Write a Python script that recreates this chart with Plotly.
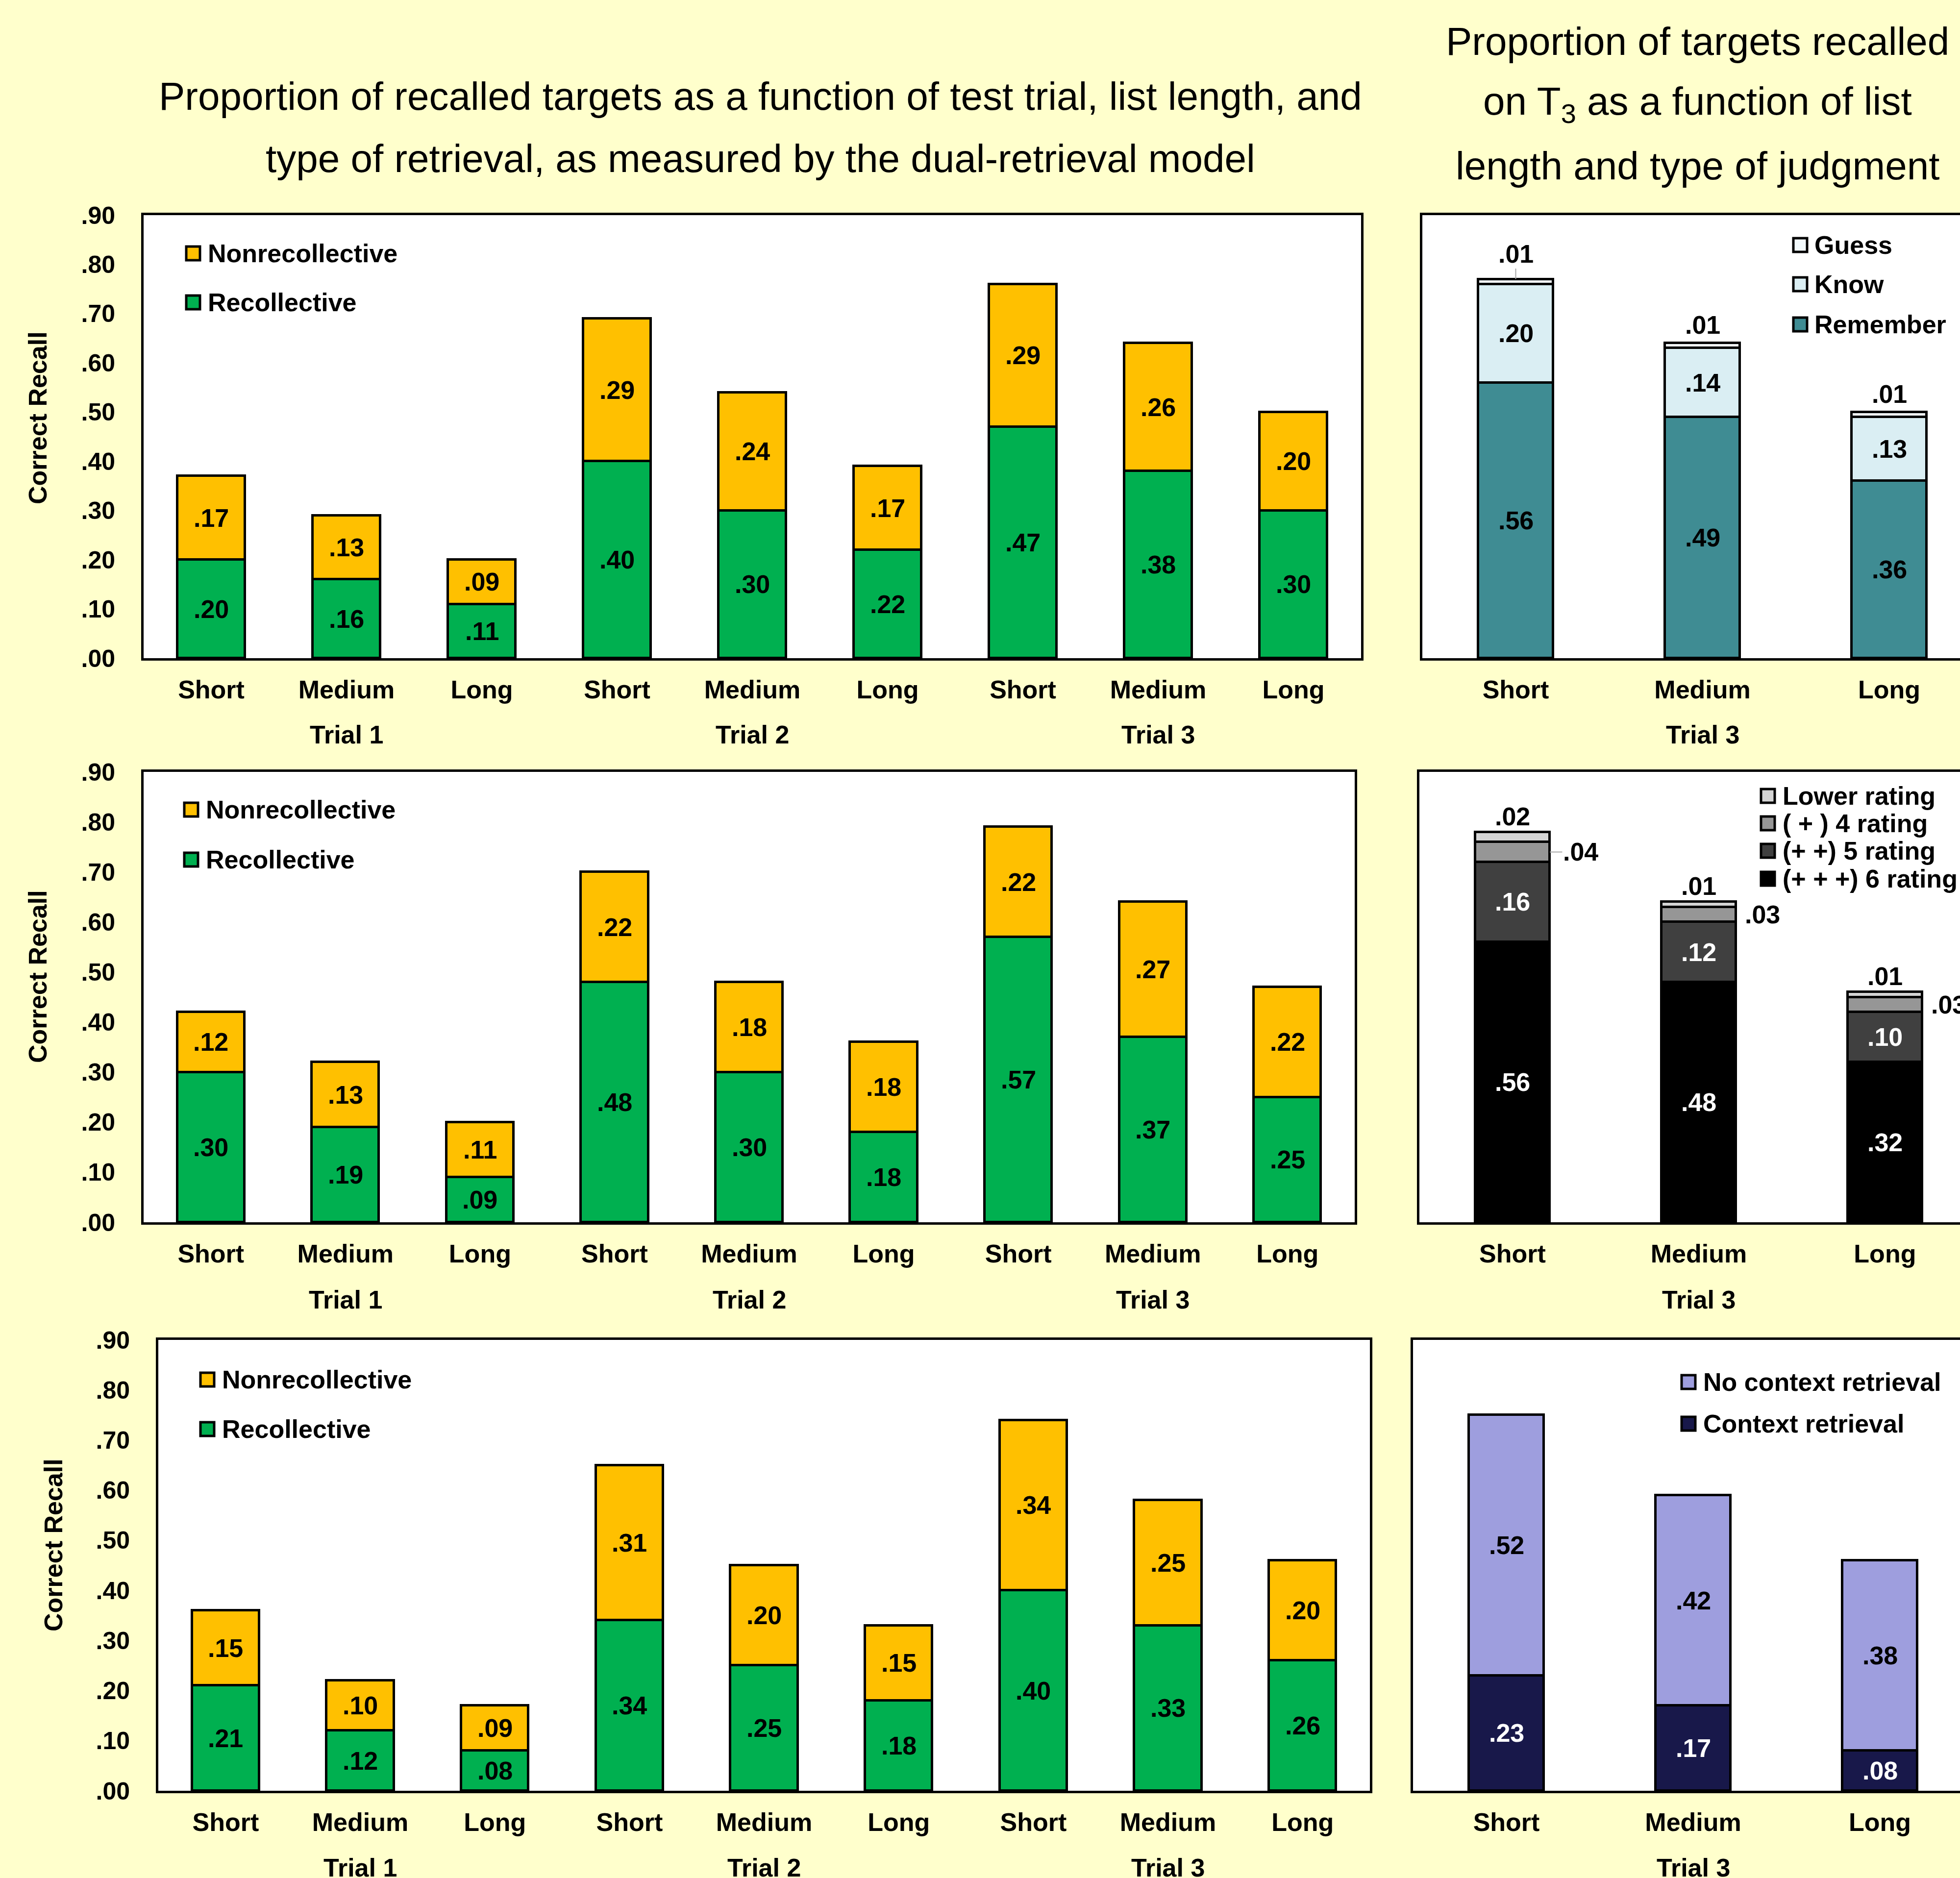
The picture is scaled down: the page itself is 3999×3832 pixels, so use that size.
import plotly.graph_objects as go

# ------------------------------------------------------------------ data
lengths = ["Short", "Medium", "Long"]
trials = ["Trial 1", "Trial 2", "Trial 3"]
left_ticktext = ["Short", "Medium", "Long", "Short", "Medium", "Long", "Short", "Medium", "Long"]
y_tickvals = [0.0, 0.1, 0.2, 0.3, 0.4, 0.5, 0.6, 0.7, 0.8, 0.9]
y_ticktext = [".00", ".10", ".20", ".30", ".40", ".50", ".60", ".70", ".80", ".90"]

# Row 1
r1_recollective = [0.20, 0.16, 0.11, 0.40, 0.30, 0.22, 0.47, 0.38, 0.30]
r1_nonrecollective = [0.17, 0.13, 0.09, 0.29, 0.24, 0.17, 0.29, 0.26, 0.20]
r1_remember = [0.56, 0.49, 0.36]
r1_know = [0.20, 0.14, 0.13]
r1_guess = [0.01, 0.01, 0.01]

# Row 2
r2_recollective = [0.30, 0.19, 0.09, 0.48, 0.30, 0.18, 0.57, 0.37, 0.25]
r2_nonrecollective = [0.12, 0.13, 0.11, 0.22, 0.18, 0.18, 0.22, 0.27, 0.22]
r2_rating6 = [0.56, 0.48, 0.32]
r2_rating5 = [0.16, 0.12, 0.10]
r2_rating4 = [0.04, 0.03, 0.03]
r2_lower = [0.02, 0.01, 0.01]

# Row 3
r3_recollective = [0.21, 0.12, 0.08, 0.34, 0.25, 0.18, 0.40, 0.33, 0.26]
r3_nonrecollective = [0.15, 0.10, 0.09, 0.31, 0.20, 0.15, 0.34, 0.25, 0.20]
r3_context = [0.23, 0.17, 0.08]
r3_nocontext = [0.52, 0.42, 0.38]

# ------------------------------------------------------------------ style
W, H = 3999, 3832
FONT = "Liberation Sans, Arial, sans-serif"
BG = "#FFFFCC"
GREEN, GOLD = "#00B050", "#FFC000"
TEAL, KNOW, GUESS = "#3F8C93", "#DAEEF3", "#F3FAFC"
R6, R5, R4, LOWER = "#000000", "#404040", "#969696", "#D4D4D4"
CTX, NOCTX = "#18184A", "#9E9EDE"
LW = 5
VAL_SIZE = 52


def fx(p):
    return p / W


def fy(p):
    return 1 - p / H


def aid(k):
    return "" if k == 1 else str(k)


def fmt(v):
    return f"{v:.2f}".lstrip("0")


panels = {
    1: dict(x=(293, 2777), y=(439, 1343), xr=[-0.5, 8.5], left=True),
    2: dict(x=(2902, 3999), y=(439, 1343), xr=[-0.5, 2.379], left=False),
    3: dict(x=(293, 2764), y=(1575, 2494), xr=[-0.5, 8.5], left=True),
    4: dict(x=(2896, 3999), y=(1575, 2494), xr=[-0.5, 2.403], left=False),
    5: dict(x=(323, 2795), y=(2734, 3654), xr=[-0.5, 8.5], left=True),
    6: dict(x=(2883, 3999), y=(2734, 3654), xr=[-0.5, 2.429], left=False),
}

fig = go.Figure()
annotations = []
shapes = []

layout_axes = {}
for k, p in panels.items():
    tv = list(range(len(left_ticktext))) if p["left"] else list(range(len(lengths)))
    tt = left_ticktext if p["left"] else lengths
    layout_axes[f"xaxis{aid(k)}"] = dict(
        domain=[fx(p["x"][0]), fx(p["x"][1])], range=p["xr"], anchor=f"y{aid(k)}",
        tickvals=tv, ticktext=tt, ticks="", ticklabelstandoff=15, automargin=False,
        tickfont=dict(family=FONT, size=52, color="black", weight="bold"),
        showline=True, mirror=True, linecolor="black", linewidth=LW,
        showgrid=False, zeroline=False, fixedrange=True,
    )
    layout_axes[f"yaxis{aid(k)}"] = dict(
        domain=[fy(p["y"][1]), fy(p["y"][0])], range=[0, 0.9], anchor=f"x{aid(k)}",
        tickvals=y_tickvals, ticktext=y_ticktext, ticks="", ticklabelstandoff=43, automargin=False,
        showticklabels=p["left"],
        tickfont=dict(family=FONT, size=50, color="black", weight="bold"),
        showline=True, mirror=p["left"], linecolor="black", linewidth=LW,
        showgrid=False, zeroline=False, fixedrange=True,
    )


def add_stack(k, series, colors, width):
    xs = list(range(len(series[0])))
    for vals, col in zip(series, colors):
        fig.add_trace(go.Bar(
            x=xs, y=vals, width=width,
            marker=dict(color=col, line=dict(color="black", width=LW)),
            xaxis=f"x{aid(k)}", yaxis=f"y{aid(k)}", showlegend=False, hoverinfo="skip",
        ))


def mid_labels(k, series, txtcolors, labelled):
    n = len(series[0])
    base = [0.0] * n
    for si, vals in enumerate(series):
        for i, v in enumerate(vals):
            if labelled[si]:
                annotations.append(dict(
                    x=i, y=base[i] + v / 2, xref=f"x{aid(k)}", yref=f"y{aid(k)}",
                    text=fmt(v), showarrow=False, xanchor="center", yanchor="middle",
                    font=dict(family=FONT, size=VAL_SIZE, color=txtcolors[si], weight="bold"),
                ))
            base[i] += v
    return base


def txt(x, y, text, size=52, xanchor="center", yanchor="middle", weight="bold", angle=0, **kw):
    d = dict(x=x, y=y, xref="paper", yref="paper", text=text, showarrow=False,
             xanchor=xanchor, yanchor=yanchor, textangle=angle,
             font=dict(family=FONT, size=size, color="black", weight=weight))
    d.update(kw)
    annotations.append(d)


def legend_item(cx, cy, tx, color, label):
    shapes.append(dict(type="rect", xref="paper", yref="paper", xsizemode="pixel", ysizemode="pixel",
                       xanchor=fx(cx), yanchor=fy(cy), x0=-14, x1=14, y0=-14, y1=14,
                       fillcolor=color, line=dict(color="black", width=LW)))
    txt(fx(tx), fy(cy), label, xanchor="left")


# ---------------- left panels (recollective / nonrecollective)
left_rows = [
    (1, r1_recollective, r1_nonrecollective),
    (3, r2_recollective, r2_nonrecollective),
    (5, r3_recollective, r3_nonrecollective),
]
for k, rec, non in left_rows:
    add_stack(k, [rec, non], [GREEN, GOLD], 0.5)
    mid_labels(k, [rec, non], ["black", "black"], [True, True])

# ---------------- right row 1: remember / know / guess
add_stack(2, [r1_remember, r1_know, r1_guess], [TEAL, KNOW, GUESS], 0.4)
tot2 = mid_labels(2, [r1_remember, r1_know, r1_guess], ["black", "black", "black"], [True, True, False])
for i, v in enumerate(r1_guess):
    if i == 0:
        annotations.append(dict(x=i, y=tot2[i], xref="x2", yref="y2", text=fmt(v), showarrow=True,
                                arrowhead=0, arrowwidth=2, arrowcolor="#A6A6A6", ax=0, ay=-52,
                                font=dict(family=FONT, size=VAL_SIZE, color="black", weight="bold")))
    else:
        annotations.append(dict(x=i, y=tot2[i], xref="x2", yref="y2", text=fmt(v), showarrow=False,
                                yanchor="middle", yshift=37,
                                font=dict(family=FONT, size=VAL_SIZE, color="black", weight="bold")))

# ---------------- right row 2: confidence ratings
add_stack(4, [r2_rating6, r2_rating5, r2_rating4, r2_lower], [R6, R5, R4, LOWER], 0.4)
tot4 = mid_labels(4, [r2_rating6, r2_rating5, r2_rating4, r2_lower],
                  ["white", "white", "black", "black"], [True, True, False, False])
for i, v in enumerate(r2_lower):
    annotations.append(dict(x=i, y=tot4[i], xref="x4", yref="y4", text=fmt(v), showarrow=False,
                            yanchor="middle", yshift=32,
                            font=dict(family=FONT, size=VAL_SIZE, color="black", weight="bold")))
for i, v in enumerate(r2_rating4):
    ymid = r2_rating6[i] + r2_rating5[i] + v / 2
    if i == 0:
        annotations.append(dict(x=i + 0.2, y=ymid, xref="x4", yref="y4", text=fmt(v), showarrow=True,
                                arrowhead=0, arrowwidth=2, arrowcolor="#A6A6A6", ax=63, ay=0,
                                font=dict(family=FONT, size=VAL_SIZE, color="black", weight="bold")))
    else:
        annotations.append(dict(x=i + 0.2, y=ymid, xref="x4", yref="y4", text=fmt(v), showarrow=False,
                                xanchor="left", yanchor="middle", xshift=16,
                                font=dict(family=FONT, size=VAL_SIZE, color="black", weight="bold")))

# ---------------- right row 3: context retrieval
add_stack(6, [r3_context, r3_nocontext], [CTX, NOCTX], 0.4)
mid_labels(6, [r3_context, r3_nocontext], ["white", "black"], [True, True])

# ---------------- trial labels under groups
trial_y = {1: 1499, 3: 2652, 5: 3811}
for k, ypx in trial_y.items():
    for g, name in enumerate(trials):
        annotations.append(dict(x=g * 3 + 1, y=fy(ypx), xref=f"x{aid(k)}", yref="paper", text=name,
                                showarrow=False, yanchor="middle",
                                font=dict(family=FONT, size=52, color="black", weight="bold")))
    annotations.append(dict(x=1, y=fy(ypx), xref=f"x{aid(k + 1)}", yref="paper", text=trials[2],
                            showarrow=False, yanchor="middle",
                            font=dict(family=FONT, size=52, color="black", weight="bold")))

# ---------------- y-axis titles
for xpx, ypx in [(77, 853), (77, 1993), (109, 3153)]:
    txt(fx(xpx), fy(ypx), "Correct Recall", angle=-90)

# ---------------- titles
txt(fx(1551), fy(196), "Proportion of recalled targets as a function of test trial, list length, and",
    size=80, weight="normal")
txt(fx(1551), fy(324), "type of retrieval, as measured by the dual-retrieval model", size=80, weight="normal")
txt(fx(3463), fy(84), "Proportion of targets recalled", size=80, weight="normal")
txt(fx(3463), fy(212), "on T<sub>3</sub> as a function of list", size=80, weight="normal")
txt(fx(3463), fy(339), "length and type of judgment", size=80, weight="normal")

# ---------------- legends
legend_item(394, 517, 422, GOLD, "Nonrecollective")
legend_item(394, 617, 422, GREEN, "Recollective")
legend_item(390, 1652, 418, GOLD, "Nonrecollective")
legend_item(390, 1754, 418, GREEN, "Recollective")
legend_item(423, 2815, 451, GOLD, "Nonrecollective")
legend_item(423, 2916, 451, GREEN, "Recollective")

legend_item(3673, 500, 3700, GUESS, "Guess")
legend_item(3673, 580, 3700, KNOW, "Know")
legend_item(3673, 662, 3700, TEAL, "Remember")

legend_item(3607, 1624, 3635, LOWER, "Lower rating")
legend_item(3607, 1680, 3635, R4, "( + ) 4 rating")
legend_item(3607, 1736, 3635, R5, "(+ +) 5 rating")
legend_item(3607, 1793, 3635, R6, "(+ + +) 6 rating")

legend_item(3445, 2820, 3473, NOCTX, "No context retrieval")
legend_item(3445, 2905, 3473, CTX, "Context retrieval")

fig.update_layout(
    width=W, height=H, autosize=False,
    margin=dict(l=0, r=0, t=0, b=0, pad=0, autoexpand=False),
    paper_bgcolor=BG, plot_bgcolor="white",
    barmode="stack", bargap=0,
    showlegend=False,
    font=dict(family=FONT, color="black"),
    annotations=annotations, shapes=shapes,
    **layout_axes,
)

fig.write_html("out.html")
